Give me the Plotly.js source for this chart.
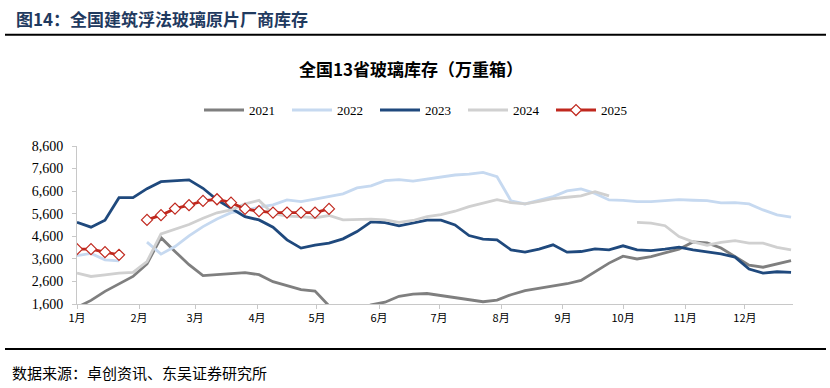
<!DOCTYPE html>
<html>
<head>
<meta charset="utf-8">
<script src="https://cdn.plot.ly/plotly-3.0.1.min.js"></script>
<style>
  html, body { margin: 0; padding: 0; background: #ffffff; }
  #chart { width: 830px; height: 388px; }
</style>
</head>
<body>
<div id="chart"></div>
<script>
// Week of year (1..52) used as the x position of each weekly observation
const weeks = [1,2,3,4,5,6,7,8,9,10,11,12,13,14,15,16,17,18,19,20,21,22,23,24,25,26,
               27,28,29,30,31,32,33,34,35,36,37,38,39,40,41,42,43,44,45,46,47,48,49,50,51,52];

// Month labels and the week position at which each month starts
const monthLabels = ['1月','2月','3月','4月','5月','6月','7月','8月','9月','10月','11月','12月'];
const monthStartWeek = [1, 5.43, 9.43, 13.86, 18.14, 22.57, 26.86, 31.29, 35.71, 40, 44.43, 48.71];

// Inventory, 10k weight boxes
const inv2021 = [1450,1760,2160,2500,2820,3380,4540,3930,3340,2860,2890,2950,2990,2900,2590,2430,2240,2170,1520,1300,
                 1350,1560,1680,1940,2040,2065,1970,1870,1770,1700,1775,2011,2188,2290,2390,2497,2643,3041,3412,3720,
                 3595,3704,3881,4031,4350,4310,4080,3690,3320,3230,3375,3520];
const inv2022 = [3740,3840,3558,3514,null,4340,3810,4146,4619,5030,5370,5649,5740,5890,5990,6210,6135,6250,6356,6480,
                 6740,6835,7063,7110,7043,7130,7213,7315,7350,7434,7240,6170,6033,6210,6356,6608,6697,6500,6210,6195,
                 6135,6135,6179,6223,6197,6179,6078,6091,6033,5768,5547,5445];
const inv2023 = [5224,5003,5313,6312,6312,6710,7019,7063,7100,6727,6210,5843,5472,5326,5003,4442,4075,4208,4296,4486,
                 4809,5238,5207,5061,5180,5313,5313,5105,4632,4473,4442,4000,3898,4031,4221,3898,3925,4044,4000,4177,
                 4000,3969,4031,4119,4000,3912,3823,3677,3147,2970,3028,2997];
const inv2024 = [2970,2820,2895,2970,2997,3483,4707,4920,5120,5401,5640,5768,6033,6190,5600,5490,5472,5420,5520,5326,
                 5340,5360,5326,5215,5300,5472,5560,5710,5914,6064,6225,6091,6033,6150,6270,6329,6387,6577,6387,null,
                 5215,5180,5068,4588,4355,4205,4330,4405,4296,4296,4110,4000];
const inv2025 = [4031,4031,3898,3779,null,5326,5534,5826,5976,6166,6241,6091,5812,5710,5649,5649,5649,5649,5812];

const seriesNames = ['2021','2022','2023','2024','2025'];

const serif = '"Liberation Serif", "Times New Roman", "Noto Sans CJK SC", serif';
const cjk = '"Noto Sans CJK SC", "Liberation Serif", sans-serif';

const traces = [
  {x: weeks, y: inv2021, name: seriesNames[0], mode: 'lines', line: {color: '#7f7f7f', width: 2.8}, connectgaps: false},
  {x: weeks, y: inv2022, name: seriesNames[1], mode: 'lines', line: {color: '#c6d9f0', width: 2.8}, connectgaps: false},
  {x: weeks, y: inv2023, name: seriesNames[2], mode: 'lines', line: {color: '#1f497d', width: 2.8}, connectgaps: false},
  {x: weeks, y: inv2024, name: seriesNames[3], mode: 'lines', line: {color: '#d0d0d0', width: 2.8}, connectgaps: false},
  {x: weeks.slice(0, inv2025.length), y: inv2025, name: seriesNames[4], mode: 'lines+markers',
   line: {color: '#c0281e', width: 2.8},
   marker: {symbol: 'diamond', size: 8.5, color: '#ffffff', line: {color: '#c0281e', width: 1.2}},
   connectgaps: false}
];

// paper-coordinate helpers (plot area: x 77..793 px, y 146..304.3 px)
const L = 77, R = 793, T = 146, B = 304.3;
const px = X => (X - L) / (R - L);
const py = Y => (B - Y) / (B - T);

const layout = {
  width: 830, height: 388,
  margin: {l: L, r: 830 - R, t: T, b: 388 - B},
  paper_bgcolor: '#ffffff', plot_bgcolor: '#ffffff',
  showlegend: true,
  title: {
    text: '<b>全国13省玻璃库存（万重箱）</b>',
    font: {family: cjk, size: 17, color: '#000000'},
    xref: 'paper', x: px(411), xanchor: 'center',
    yref: 'container', y: 1 - 70 / 388, yanchor: 'middle'
  },
  legend: {
    orientation: 'h',
    x: px(199), xanchor: 'left',
    y: py(110), yanchor: 'middle',
    font: {family: serif, size: 13, color: '#000000'},
    itemwidth: 40,
    entrywidth: 33, entrywidthmode: 'pixels',
    bgcolor: 'rgba(0,0,0,0)',
    traceorder: 'normal'
  },
  xaxis: {
    range: [1, 52.14],
    tickvals: monthStartWeek, ticktext: monthLabels,
    showgrid: false, zeroline: false,
    showline: true, linecolor: '#c8c8c8', linewidth: 1,
    ticks: 'outside', ticklen: 4, tickcolor: '#c8c8c8',
    tickfont: {family: cjk, size: 11, color: '#000000'},
    fixedrange: true
  },
  yaxis: {
    range: [1600, 8600],
    tick0: 1600, dtick: 1000, tickformat: ',d',
    showgrid: false, zeroline: false,
    showline: true, linecolor: '#c8c8c8', linewidth: 1,
    ticks: 'outside', ticklen: 4, tickcolor: '#c8c8c8',
    tickfont: {family: serif, size: 14, color: '#000000'},
    ticklabelstandoff: 6,
    fixedrange: true
  },
  annotations: [
    {text: '<b>图14：全国建筑浮法玻璃原片厂商库存</b>', xref: 'paper', yref: 'paper',
     x: px(14), y: py(18), xanchor: 'left', yanchor: 'middle', showarrow: false,
     font: {family: cjk, size: 17, color: '#1f3a5f'}},
    {text: '数据来源：卓创资讯、东吴证券研究所', xref: 'paper', yref: 'paper',
     x: px(10), y: py(373), xanchor: 'left', yanchor: 'middle', showarrow: false,
     font: {family: cjk, size: 15, color: '#000000'}}
  ],
  shapes: [
    {type: 'line', xref: 'paper', yref: 'paper', x0: px(5), x1: px(826), y0: py(34.5), y1: py(34.5),
     line: {color: '#000000', width: 2}},
    {type: 'line', xref: 'paper', yref: 'paper', x0: px(5), x1: px(826), y0: py(349.5), y1: py(349.5),
     line: {color: '#000000', width: 2}}
  ]
};

Plotly.newPlot('chart', traces, layout, {displayModeBar: false, staticPlot: true});
</script>
</body>
</html>
